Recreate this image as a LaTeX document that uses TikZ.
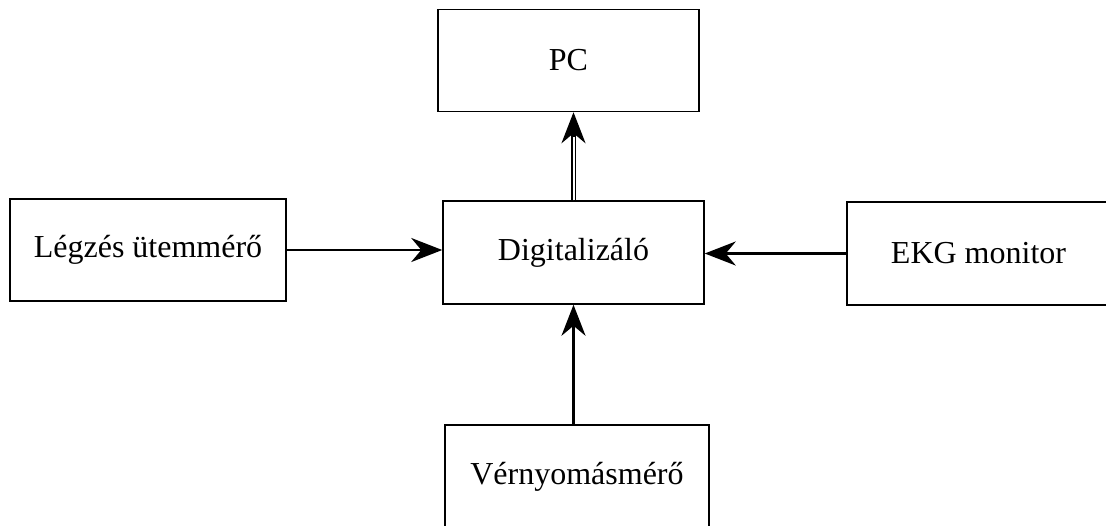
\documentclass[tikz,border=0pt]{standalone}
\usepackage{fontspec}
\setmainfont{Liberation Serif}
\usetikzlibrary{arrows.meta}
\tikzset{
  block/.style={draw, line width=1.5pt, minimum width=261pt, minimum height=102pt, inner sep=0pt, font=\fontsize{32}{39}\selectfont},
  link/.style={line width=2.6pt, -{Stealth[length=31pt, width=24pt, inset=10pt]}},
}
\begin{document}
\begin{tikzpicture}[x=1pt, y=-1pt]
\useasboundingbox (0,0) rectangle (1106,525);
\clip (0,0) rectangle (1106,525);
\node[block] (pc) at (568.5,60.5) {PC};
\node[block, minimum height=103pt] (dig) at (573.5,252.5) {Digitalizáló};
\node[block, minimum width=276pt] (legzes) at (148,250) {Légzés ütemmérő};
\node[block, minimum width=263pt, minimum height=103pt] (ekg) at (978.5,253.5) {EKG monitor};
\node[block, minimum width=264pt, minimum height=103pt] (ver) at (577,476.5) {Vérnyomásmérő};
\draw[link] (legzes.east) -- (dig.west |- legzes.east);
\draw[link] (ekg.west) -- (dig.east |- ekg.west);
\draw[link] (dig.south |- ver.north) -- (dig.south);
\draw[line width=1.6pt, double, double distance=2pt] (dig.north) -- ([yshift=-20pt]dig.north |- pc.south);
\draw[link] ([yshift=-25pt]dig.north |- pc.south) -- (dig.north |- pc.south);
\end{tikzpicture}
\end{document}
